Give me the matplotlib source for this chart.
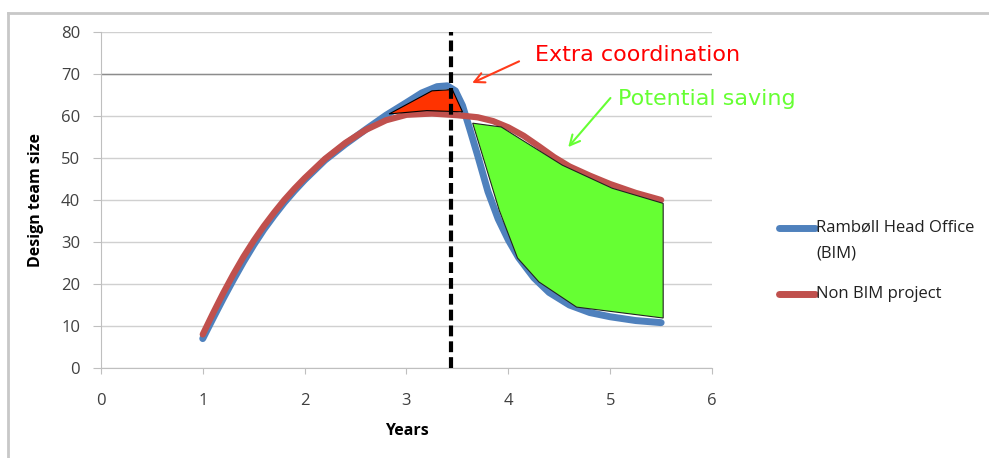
import matplotlib
matplotlib.use("Agg")
import matplotlib.pyplot as plt
from matplotlib.lines import Line2D

# series
years_bim = [1.0, 1.1, 1.2, 1.3, 1.4, 1.5, 1.6, 1.7, 1.8, 1.9, 2.0, 2.2, 2.4,
             2.6, 2.8, 3.0, 3.15, 3.3, 3.4, 3.48, 3.55, 3.62, 3.7, 3.8, 3.9,
             4.0, 4.1, 4.25, 4.4, 4.6, 4.8, 5.0, 5.25, 5.5]
team_bim = [7, 11.8, 16.5, 21, 25.3, 29.3, 33, 36.3, 39.4, 42.2, 44.8, 49.5, 53.3,
            56.8, 60.2, 63.2, 65.5, 67, 67.2, 66, 62.5, 57, 50.5, 42, 35.5,
            30.5, 26.3, 21.5, 18, 15, 13.2, 12.2, 11.3, 10.8]

years_non = [1.0, 1.1, 1.2, 1.3, 1.4, 1.5, 1.6, 1.7, 1.8, 1.9, 2.0, 2.2, 2.4,
             2.6, 2.8, 3.0, 3.25, 3.5, 3.7, 3.85, 4.0, 4.15, 4.3, 4.45, 4.6,
             4.8, 5.0, 5.25, 5.5]
team_non = [8, 13, 17.8, 22.3, 26.5, 30.3, 33.8, 37, 40, 42.7, 45.2, 49.8, 53.6,
            56.7, 59, 60.3, 60.6, 60.2, 59.7, 58.8, 57.3, 55.3, 52.8, 50.2, 48,
            45.8, 43.8, 41.7, 40]

# shaded areas
extra_x = [2.83, 3.25, 3.45, 3.55, 3.2]
extra_y = [60.5, 66, 66.3, 61, 61.3]
saving_x = [3.65, 3.93, 4.53, 5.02, 5.52, 5.52, 4.67, 4.3, 4.09, 3.91]
saving_y = [58.3, 57.4, 48.3, 42.8, 39.2, 11.9, 14.5, 20.5, 26.2, 37.6]

marker_year = 3.44

plt.rcParams['font.family'] = ['Open Sans', 'DejaVu Sans']

fig = plt.figure(figsize=(9.89, 4.58), dpi=100)
ax = fig.add_axes([0.102, 0.1965, 0.618, 0.7335])

ax.plot(years_bim, team_bim, color='#4F81BD', lw=5, solid_capstyle='round',
        solid_joinstyle='round', zorder=3)
ax.plot(years_non, team_non, color='#C0504D', lw=4.5, solid_capstyle='round',
        solid_joinstyle='round', zorder=4)
ax.fill(extra_x, extra_y, facecolor='#FF3300', edgecolor='black', lw=0.8, zorder=5)
ax.fill(saving_x, saving_y, facecolor='#66FF33', edgecolor='#222222', lw=0.8, zorder=5)
ax.plot([marker_year, marker_year], [0, 80], color='black', lw=3,
        dashes=(2.6, 1.2), zorder=6, clip_on=False)

ax.set_xlim(0, 6)
ax.set_ylim(0, 80)
ax.set_xticks(range(0, 7))
ax.set_yticks(range(0, 90, 10))
ax.grid(axis='y', color='#D0D0D0', lw=1)
ax.set_axisbelow(True)
ax.axhline(70, color='#8C8C8C', lw=1, zorder=1)
for s in ['top', 'right']:
    ax.spines[s].set_visible(False)
for s in ['left', 'bottom']:
    ax.spines[s].set_color('#BFBFBF')
ax.tick_params(axis='y', length=6, color='#BFBFBF', pad=9, labelsize=12, labelcolor='#404040')
ax.tick_params(axis='x', length=4, color='#BFBFBF', pad=14, labelsize=12, labelcolor='#404040')

ax.set_ylabel('Design team size', fontweight='bold', fontsize=11.5, labelpad=12)
ax.set_xlabel('Years', fontweight='bold', fontsize=11.5, labelpad=10)

# annotations
ax.annotate('', xy=(3.62, 67.6), xytext=(4.13, 73.3),
            arrowprops=dict(arrowstyle='->', color='#FF3B1A', lw=1.5, mutation_scale=18),
            annotation_clip=False)
ax.text(4.26, 74.5, 'Extra coordination', color='#FF0000', fontsize=16,
        va='center', ha='left', family=['DejaVu Sans'], clip_on=False)
ax.annotate('', xy=(4.57, 52.1), xytext=(5.02, 64.8),
            arrowprops=dict(arrowstyle='->', color='#66FF33', lw=1.5, mutation_scale=18),
            annotation_clip=False)
ax.text(5.08, 64.0, 'Potential saving', color='#66FF33', fontsize=16,
        va='center', ha='left', family=['DejaVu Sans'], clip_on=False)

# legend drawn by hand so the handle sits on the first text line
fig.add_artist(Line2D([779 / 989, 815 / 989], [1 - 228 / 458, 1 - 228 / 458],
                      color='#4F81BD', lw=5, solid_capstyle='round'))
fig.add_artist(Line2D([779 / 989, 815 / 989], [1 - 294 / 458, 1 - 294 / 458],
                      color='#C0504D', lw=5, solid_capstyle='round'))
fig.text(816 / 989, 1 - 228 / 458, 'Rambøll Head Office', fontsize=12,
         va='center', ha='left', color='#202020')
fig.text(816 / 989, 1 - 253 / 458, '(BIM)', fontsize=12,
         va='center', ha='left', color='#202020')
fig.text(816 / 989, 1 - 294 / 458, 'Non BIM project', fontsize=12,
         va='center', ha='left', color='#202020')

# outer frame (top and left edge only visible)
fig.add_artist(Line2D([8 / 989, 1], [1 - 13 / 458, 1 - 13 / 458], color='#C8C8C8', lw=2))
fig.add_artist(Line2D([8 / 989, 8 / 989], [0, 1 - 13 / 458], color='#C8C8C8', lw=2))

fig.savefig('out.png', dpi=100)
